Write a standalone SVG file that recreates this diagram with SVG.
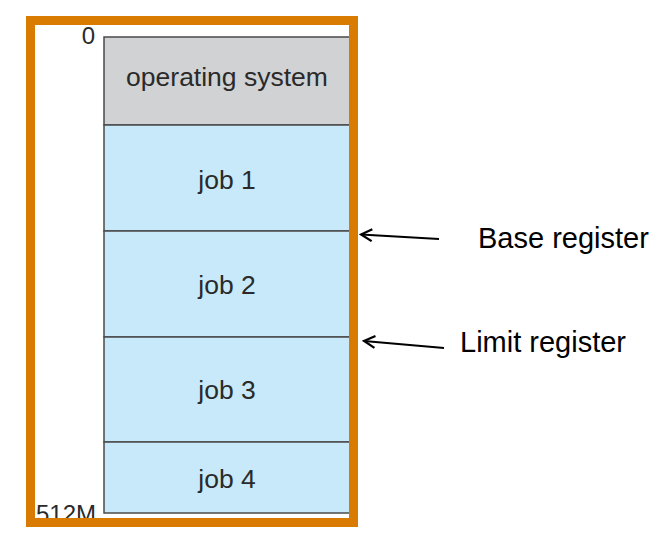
<svg xmlns="http://www.w3.org/2000/svg" width="668" height="544" viewBox="0 0 668 544">
<style>
.seg{stroke:#4a4a4a;stroke-width:1.5}
.os{fill:#d1d2d4}
.job{fill:#c8e9f9}
.lbl{font-family:"Liberation Sans",Arial,sans-serif;font-size:26.5px;fill:#2a2a2a;text-anchor:middle}
.reg{font-family:"Liberation Sans",Arial,sans-serif;font-size:29px;fill:#000}
.addr{font-family:"Liberation Sans",Arial,sans-serif;font-size:24px;fill:#2a2a2a}
.arr{stroke:#000;stroke-width:2;fill:none}
</style>
<defs>
<marker id="ah" markerWidth="14" markerHeight="14" refX="12" refY="7" orient="auto" markerUnits="userSpaceOnUse">
<path d="M1,1 L12,7 L1,13" fill="none" stroke="#000" stroke-width="2.2"/>
</marker>
</defs>
<rect width="668" height="544" fill="#fff"/>
<g id="os"><rect class="seg os" x="104" y="37" width="250" height="88"/><text class="lbl" x="227" y="86">operating system</text></g>
<g id="job1"><rect class="seg job" x="104" y="125" width="250" height="106"/><text class="lbl" x="227" y="189">job 1</text></g>
<g id="job2"><rect class="seg job" x="104" y="231" width="250" height="106"/><text class="lbl" x="227" y="294">job 2</text></g>
<g id="job3"><rect class="seg job" x="104" y="337" width="250" height="105"/><text class="lbl" x="227" y="399">job 3</text></g>
<g id="job4"><rect class="seg job" x="104" y="442" width="250" height="71"/><text class="lbl" x="227" y="488">job 4</text></g>
<text class="addr" x="95" y="44" text-anchor="end">0</text>
<text class="addr" x="96" y="522" text-anchor="end">512M</text>
<rect id="frame" x="30.5" y="20.5" width="323" height="502" fill="none" stroke="#d97b00" stroke-width="9"/>
<g id="connectors">
<line class="arr" x1="439" y1="239" x2="361" y2="234.5" marker-end="url(#ah)"/>
<line class="arr" x1="444" y1="348" x2="364" y2="341" marker-end="url(#ah)"/>
</g>
<g id="base"><text class="reg" x="478" y="248">Base register</text></g>
<g id="limit"><text class="reg" x="460" y="352">Limit register</text></g>
</svg>
